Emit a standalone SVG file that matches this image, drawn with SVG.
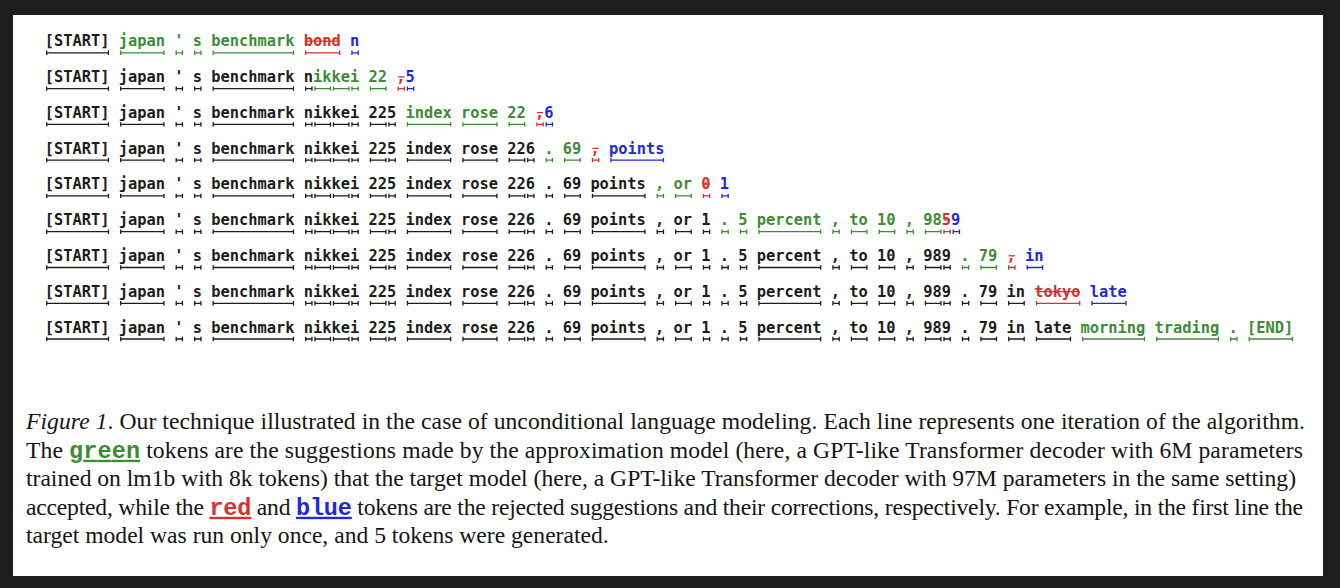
<svg xmlns="http://www.w3.org/2000/svg" xmlns:xlink="http://www.w3.org/1999/xlink" width="1340" height="588" viewBox="0 0 1340 588">
  <style>
    .tok { font-family: "DejaVu Sans Mono", "Liberation Mono", monospace; font-weight: bold; font-size: 15.364px; white-space: pre; }
    .k { fill: #1c1c1c; }
    .g { fill: #3d8c34; }
    .r { fill: #d8322b; }
    .b { fill: #2029d6; }
    .uk { stroke: #1c1c1c; }
    .ug { stroke: #3d8c34; }
    .ur { stroke: #d8322b; }
    .ub { stroke: #2029d6; }
    use, .strike { fill: none; stroke-width: 1.3; }
    .strike { stroke: #d8322b; }
    .cap { font-family: "Liberation Serif", "Times New Roman", serif; font-size: 23.6px; fill: #151515; white-space: pre; }
    tspan.mono { font-family: "Liberation Mono", "Courier New", Courier, "Nimbus Mono PS", "FreeMono", monospace; font-weight: bold; font-size: 23.5px; text-decoration: underline; }
  </style>
  <defs>
    <!-- token brackets: a rule with end ticks, sized by token length (9.25px per column) -->
    <path id="u1" d="M1.9 0H8.15M1.9 -2.2V2.2M8.15 -2.2V2.2"/>
    <path id="u2" d="M1.9 0H17.4M1.9 -2.2V2.2M17.4 -2.2V2.2"/>
    <path id="u4" d="M1.9 0H35.9M1.9 -2.2V2.2M35.9 -2.2V2.2"/>
    <path id="u5" d="M1.9 0H45.15M1.9 -2.2V2.2M45.15 -2.2V2.2"/>
    <path id="u6" d="M1.9 0H54.4M1.9 -2.2V2.2M54.4 -2.2V2.2"/>
    <path id="u7" d="M1.9 0H63.65M1.9 -2.2V2.2M63.65 -2.2V2.2"/>
    <path id="u9" d="M1.9 0H82.15M1.9 -2.2V2.2M82.15 -2.2V2.2"/>
    <!-- shared accepted prefix brackets -->
    <g id="p0"><use href="#u7" x="44.8"/></g>
    <g id="p4">
      <use href="#u5" x="118.8"/><use href="#u1" x="174.3"/><use href="#u1" x="192.8"/><use href="#u9" x="211.3"/>
    </g>
    <g id="p5"><use href="#u1" x="303.8"/></g>
    <g id="p8"><use href="#u2" x="313.05"/><use href="#u2" x="331.55"/><use href="#u1" x="350.05"/></g>
    <g id="p10"><use href="#u2" x="368.55"/><use href="#u1" x="387.05"/></g>
    <g id="p14"><use href="#u5" x="405.55"/><use href="#u4" x="461.05"/><use href="#u2" x="507.3"/><use href="#u1" x="525.8"/></g>
    <g id="p17"><use href="#u1" x="544.3"/><use href="#u2" x="562.8"/><use href="#u6" x="590.55"/></g>
    <g id="p20"><use href="#u1" x="655.3"/><use href="#u2" x="673.8"/><use href="#u1" x="701.55"/></g>
    <g id="p28">
      <use href="#u1" x="720.05"/><use href="#u1" x="738.55"/><use href="#u7" x="757.05"/><use href="#u1" x="831.05"/>
      <use href="#u2" x="849.55"/><use href="#u2" x="877.3"/><use href="#u1" x="905.05"/><use href="#u2" x="923.55"/>
    </g>
    <g id="p29"><use href="#u1" x="942.05"/></g>
    <g id="p31"><use href="#u1" x="960.55"/><use href="#u2" x="979.05"/></g>
    <g id="p32"><use href="#u2" x="1006.8"/></g>
    <g id="p33"><use href="#u4" x="1034.55"/></g>
  </defs>

  <!-- page frame -->
  <rect x="0" y="0" width="1340" height="588" fill="#1e1e1e"/>
  <rect x="13" y="15" width="1310" height="561" fill="#ffffff"/>

  <!-- decoding iterations, one row each -->
  <g id="row1" transform="translate(0 46.3)">
    <text class="tok" x="44.8" y="0"><tspan class="k">[START]</tspan><tspan class="g"> japan ' s benchmark</tspan><tspan class="r"> bond</tspan><tspan class="b"> n</tspan></text>
    <line class="strike" x1="305.7" y1="-5.2" x2="339.7" y2="-5.2"/>
    <g transform="translate(0 6.5)">
      <use href="#p0" class="uk"/>
      <use href="#p4" class="ug"/>
      <use href="#u4" x="303.8" class="ur"/>
      <use href="#u1" x="350.05" class="ub"/>
    </g>
  </g>

  <g id="row2" transform="translate(0 82.1)">
    <text class="tok" x="44.8" y="0"><tspan class="k">[START] japan ' s benchmark n</tspan><tspan class="g">ikkei 22</tspan><tspan class="r"> ,</tspan><tspan class="b">5</tspan></text>
    <line class="strike" x1="398.2" y1="-5.2" x2="404.4" y2="-5.2"/>
    <g transform="translate(0 6.5)">
      <use href="#p0" class="uk"/><use href="#p4" class="uk"/><use href="#p5" class="uk"/>
      <use href="#p8" class="ug"/>
      <use href="#u2" x="368.55" class="ug"/>
      <use href="#u1" x="396.3" class="ur"/>
      <use href="#u1" x="405.55" class="ub"/>
    </g>
  </g>

  <g id="row3" transform="translate(0 117.9)">
    <text class="tok" x="44.8" y="0"><tspan class="k">[START] japan ' s benchmark nikkei 225</tspan><tspan class="g"> index rose 22</tspan><tspan class="r"> ,</tspan><tspan class="b">6</tspan></text>
    <line class="strike" x1="536.95" y1="-5.2" x2="543.2" y2="-5.2"/>
    <g transform="translate(0 6.5)">
      <use href="#p0" class="uk"/><use href="#p4" class="uk"/><use href="#p5" class="uk"/><use href="#p8" class="uk"/><use href="#p10" class="uk"/>
      <use href="#u5" x="405.55" class="ug"/><use href="#u4" x="461.05" class="ug"/><use href="#u2" x="507.3" class="ug"/>
      <use href="#u1" x="535.05" class="ur"/>
      <use href="#u1" x="544.3" class="ub"/>
    </g>
  </g>

  <g id="row4" transform="translate(0 153.6)">
    <text class="tok" x="44.8" y="0"><tspan class="k">[START] japan ' s benchmark nikkei 225 index rose 226</tspan><tspan class="g"> . 69</tspan><tspan class="r"> ,</tspan><tspan class="b"> points</tspan></text>
    <line class="strike" x1="592.45" y1="-5.2" x2="598.7" y2="-5.2"/>
    <g transform="translate(0 6.5)">
      <use href="#p0" class="uk"/><use href="#p4" class="uk"/><use href="#p5" class="uk"/><use href="#p8" class="uk"/><use href="#p10" class="uk"/><use href="#p14" class="uk"/>
      <use href="#u1" x="544.3" class="ug"/><use href="#u2" x="562.8" class="ug"/>
      <use href="#u1" x="590.55" class="ur"/>
      <use href="#u6" x="609.05" class="ub"/>
    </g>
  </g>

  <g id="row5" transform="translate(0 189.4)">
    <text class="tok" x="44.8" y="0"><tspan class="k">[START] japan ' s benchmark nikkei 225 index rose 226 . 69 points</tspan><tspan class="g"> , or</tspan><tspan class="r"> 0</tspan><tspan class="b"> 1</tspan></text>
    <line class="strike" x1="703.45" y1="-5.2" x2="709.7" y2="-5.2"/>
    <g transform="translate(0 6.5)">
      <use href="#p0" class="uk"/><use href="#p4" class="uk"/><use href="#p5" class="uk"/><use href="#p8" class="uk"/><use href="#p10" class="uk"/><use href="#p14" class="uk"/><use href="#p17" class="uk"/>
      <use href="#u1" x="655.3" class="ug"/><use href="#u2" x="673.8" class="ug"/>
      <use href="#u1" x="701.55" class="ur"/>
      <use href="#u1" x="720.05" class="ub"/>
    </g>
  </g>

  <g id="row6" transform="translate(0 225.2)">
    <text class="tok" x="44.8" y="0"><tspan class="k">[START] japan ' s benchmark nikkei 225 index rose 226 . 69 points , or 1</tspan><tspan class="g"> . 5 percent , to 10 , 98</tspan><tspan class="r">5</tspan><tspan class="b">9</tspan></text>
    <line class="strike" x1="943.95" y1="-5.2" x2="950.2" y2="-5.2"/>
    <g transform="translate(0 6.5)">
      <use href="#p0" class="uk"/><use href="#p4" class="uk"/><use href="#p5" class="uk"/><use href="#p8" class="uk"/><use href="#p10" class="uk"/><use href="#p14" class="uk"/><use href="#p17" class="uk"/><use href="#p20" class="uk"/>
      <use href="#p28" class="ug"/>
      <use href="#u1" x="942.05" class="ur"/>
      <use href="#u1" x="951.3" class="ub"/>
    </g>
  </g>

  <g id="row7" transform="translate(0 261)">
    <text class="tok" x="44.8" y="0"><tspan class="k">[START] japan ' s benchmark nikkei 225 index rose 226 . 69 points , or 1 . 5 percent , to 10 , 989</tspan><tspan class="g"> . 79</tspan><tspan class="r"> ,</tspan><tspan class="b"> in</tspan></text>
    <line class="strike" x1="1008.7" y1="-5.2" x2="1014.95" y2="-5.2"/>
    <g transform="translate(0 6.5)">
      <use href="#p0" class="uk"/><use href="#p4" class="uk"/><use href="#p5" class="uk"/><use href="#p8" class="uk"/><use href="#p10" class="uk"/><use href="#p14" class="uk"/><use href="#p17" class="uk"/><use href="#p20" class="uk"/><use href="#p28" class="uk"/><use href="#p29" class="uk"/>
      <use href="#p31" class="ug"/>
      <use href="#u1" x="1006.8" class="ur"/>
      <use href="#u2" x="1025.3" class="ub"/>
    </g>
  </g>

  <g id="row8" transform="translate(0 296.8)">
    <text class="tok" x="44.8" y="0"><tspan class="k">[START] japan ' s benchmark nikkei 225 index rose 226 . 69 points , or 1 . 5 percent , to 10 , 989 . 79 in</tspan><tspan class="r"> tokyo</tspan><tspan class="b"> late</tspan></text>
    <line class="strike" x1="1036.45" y1="-5.2" x2="1079.7" y2="-5.2"/>
    <g transform="translate(0 6.5)">
      <use href="#p0" class="uk"/><use href="#p4" class="uk"/><use href="#p5" class="uk"/><use href="#p8" class="uk"/><use href="#p10" class="uk"/><use href="#p14" class="uk"/><use href="#p17" class="uk"/><use href="#p20" class="uk"/><use href="#p28" class="uk"/><use href="#p29" class="uk"/><use href="#p31" class="uk"/><use href="#p32" class="uk"/>
      <use href="#u5" x="1034.55" class="ur"/>
      <use href="#u4" x="1090.05" class="ub"/>
    </g>
  </g>

  <g id="row9" transform="translate(0 332.5)">
    <text class="tok" x="44.8" y="0"><tspan class="k">[START] japan ' s benchmark nikkei 225 index rose 226 . 69 points , or 1 . 5 percent , to 10 , 989 . 79 in late</tspan><tspan class="g"> morning trading . [END]</tspan></text>
    <g transform="translate(0 6.5)">
      <use href="#p0" class="uk"/><use href="#p4" class="uk"/><use href="#p5" class="uk"/><use href="#p8" class="uk"/><use href="#p10" class="uk"/><use href="#p14" class="uk"/><use href="#p17" class="uk"/><use href="#p20" class="uk"/><use href="#p28" class="uk"/><use href="#p29" class="uk"/><use href="#p31" class="uk"/><use href="#p32" class="uk"/><use href="#p33" class="uk"/>
      <use href="#u7" x="1080.8" class="ug"/><use href="#u7" x="1154.8" class="ug"/><use href="#u1" x="1228.8" class="ug"/><use href="#u5" x="1247.3" class="ug"/>
    </g>
  </g>

  <!-- caption -->
  <g id="caption">
    <text class="cap" x="26" y="429.3" textLength="1279" lengthAdjust="spacing"><tspan font-style="italic">Figure 1</tspan>. Our technique illustrated in the case of unconditional language modeling. Each line represents one iteration of the algorithm.</text>
    <text class="cap" x="26" y="457.8" textLength="1277" lengthAdjust="spacing">The <tspan class="mono g">green</tspan> tokens are the suggestions made by the approximation model (here, a GPT-like Transformer decoder with 6M parameters</text>
    <text class="cap" x="26" y="486.3" textLength="1270" lengthAdjust="spacing">trained on lm1b with 8k tokens) that the target model (here, a GPT-like Transformer decoder with 97M parameters in the same setting)</text>
    <text class="cap" x="26" y="514.8" textLength="1277" lengthAdjust="spacing">accepted, while the <tspan class="mono r">red</tspan> and <tspan class="mono b">blue</tspan> tokens are the rejected suggestions and their corrections, respectively. For example, in the first line the</text>
    <text class="cap" x="26" y="543.3">target model was run only once, and 5 tokens were generated.</text>
  </g>
</svg>
